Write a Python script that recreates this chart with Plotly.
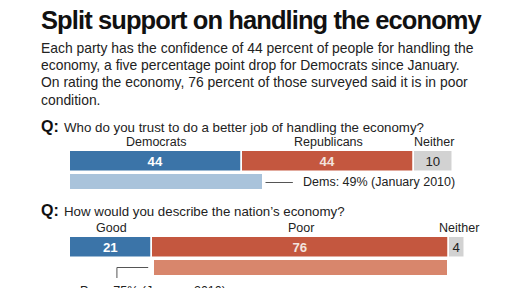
import plotly.graph_objects as go

# ---- data ----
q1_categories = ["Democrats", "Republicans", "Neither"]
q1_values = [44, 44, 10]
q1_prev_label = "Dems: 49% (January 2010)"
q1_prev_value = 49

q2_categories = ["Good", "Poor", "Neither"]
q2_values = [21, 76, 4]
q2_prev_label = "Poor: 75% (January 2010)"
q2_prev_value = 75

title = "Split support on handling the economy"
subtitle_lines = [
    "Each party has the confidence of 44 percent of people for handling the",
    "economy, a five percentage point drop for Democrats since January.",
    "On rating the economy, 76 percent of those surveyed said it is in poor",
    "condition.",
]
q1_text = "Who do you trust to do a better job of handling the economy?"
q2_text = "How would you describe the nation\u2019s economy?"

# ---- style ----
BLUE = "#3b74a8"
RED = "#c4573f"
GRAY = "#d2d2d2"
LBLUE = "#a9c3db"
LRED = "#d8866c"
TXT = "#222222"
FONT = "Liberation Sans, Arial, sans-serif"

PX = 3.91  # px per unit
X0 = 70    # px of zero
xmin = -X0 / PX
xmax = (512 - X0) / PX

fig = go.Figure()

def stacked(values, colors, yc, h, text_colors, bold):
    base = 0
    for v, c, tc, b in zip(values, colors, text_colors, bold):
        fig.add_trace(go.Bar(
            x=[v], y=[yc], base=[base], orientation="h", width=h,
            marker=dict(color=c, line=dict(color="white", width=1.5)),
            text=[f"<b>{v}</b>" if b else str(v)], textposition="inside",
            insidetextanchor="middle", textangle=0,
            textfont=dict(color=tc, size=15, family=FONT),
            cliponaxis=False, showlegend=False, hoverinfo="skip",
        ))
        base += v

# Q1 bars
stacked(q1_values, [BLUE, RED, GRAY], 161.5, 21, ["white", "#f3e3de", TXT], [True, True, False])
fig.add_trace(go.Bar(x=[q1_prev_value], y=[181.5], base=[0], orientation="h", width=15,
                     marker=dict(color=LBLUE, line=dict(width=0)), showlegend=False, hoverinfo="skip"))
# Q2 bars
stacked(q2_values, [BLUE, RED, GRAY], 247.5, 21, ["white", "#f3e3de", TXT], [True, True, False])
fig.add_trace(go.Bar(x=[q2_prev_value], y=[267.5], base=[q2_values[0] + 0.4], orientation="h", width=15,
                     marker=dict(color=LRED, line=dict(width=0)), showlegend=False, hoverinfo="skip"))

ann = []
ann.append(dict(x=39 / 512, y=20, xref="paper", yref="y", xanchor="left", yanchor="middle",
                text=f"<span style='letter-spacing:-0.9px'><b>{title}</b></span>", showarrow=False,
                font=dict(family=FONT, size=25.5, color="#111")))
for i, line in enumerate(subtitle_lines):
    ann.append(dict(x=39 / 512, y=48 + i * 17.2, xref="paper", yref="y", xanchor="left", yanchor="middle",
                    text=line, showarrow=False, font=dict(family=FONT, size=13.9, color=TXT)))

def qline(yc, text):
    ann.append(dict(x=39 / 512, y=yc, xref="paper", yref="y", xanchor="left", yanchor="middle",
                    text="<b>Q:</b>", showarrow=False, font=dict(family=FONT, size=16, color="#111")))
    ann.append(dict(x=62 / 512, y=yc + 1, xref="paper", yref="y", xanchor="left", yanchor="middle",
                    text=text, showarrow=False, font=dict(family=FONT, size=13.3, color=TXT)))

qline(126, q1_text)
qline(210, q2_text)

def cat_labels(cats, values, yc, last_shift=0):
    base = 0
    for i, (c, v) in enumerate(zip(cats, values)):
        xc = base + v / 2 + (last_shift if i == len(cats) - 1 else 0)
        ann.append(dict(x=xc, y=yc, xref="x", yref="y", xanchor="center", yanchor="middle",
                        text=c, showarrow=False, font=dict(family=FONT, size=12.5, color=TXT)))
        base += v

cat_labels(q1_categories, q1_values, 142)
cat_labels(q2_categories, q2_values, 228, last_shift=0.5)

# Q1 previous annotation
ann.append(dict(x=q1_prev_value + 10, y=182, xref="x", yref="y", xanchor="left", yanchor="middle",
                text=q1_prev_label, showarrow=False, font=dict(family=FONT, size=12.5, color=TXT)))
# Q2 previous annotation (cut off at bottom, as in the original)
ann.append(dict(x=78 / 512, y=282, xref="paper", yref="y", xanchor="left", yanchor="top",
                text=q2_prev_label, showarrow=False, font=dict(family=FONT, size=12.5, color=TXT)))

shapes = [
    dict(type="line", xref="x", yref="y", x0=q1_prev_value + 1, x1=q1_prev_value + 8, y0=182.5, y1=182.5,
         line=dict(color="#555", width=1)),
    dict(type="path", xref="x", yref="y",
         path=f"M {12} 278 L {12} 267.5 L {q2_values[0] - 1} 267.5",
         line=dict(color="#555", width=1)),
]

fig.update_layout(
    width=512, height=288, margin=dict(l=0, r=0, t=0, b=0),
    paper_bgcolor="white", plot_bgcolor="white",
    barmode="overlay", bargap=0,
    xaxis=dict(range=[xmin, xmax], visible=False, fixedrange=True),
    yaxis=dict(range=[288, 0], visible=False, fixedrange=True),
    annotations=ann, shapes=shapes,
    uniformtext=dict(minsize=8, mode="show"),
)
fig.write_html("out.html")
